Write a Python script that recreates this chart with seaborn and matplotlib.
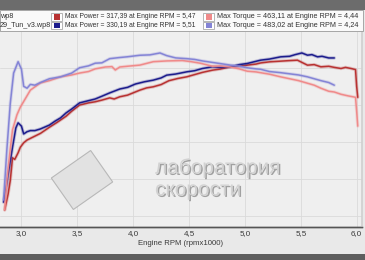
import numpy as np
import pandas as pd
import seaborn as sns
import matplotlib
matplotlib.use("Agg")
import matplotlib.pyplot as plt
from matplotlib.patches import Rectangle, Polygon
from matplotlib.ticker import MultipleLocator, FuncFormatter
import matplotlib.patheffects as pe

# ---------------- data ----------------
run_names = ["wp8", "29_Tun_v3.wp8"]

p1_rpm = [2.85, 2.88, 2.90, 2.92, 2.94, 2.97, 2.99, 3.02, 3.05, 3.10, 3.17, 3.25, 3.32, 3.40, 3.45,
          3.52, 3.60, 3.66, 3.72, 3.79, 3.83, 3.88, 3.95, 4.06, 4.12, 4.18, 4.25, 4.32, 4.40, 4.48,
          4.55, 4.62, 4.71, 4.78, 4.87, 4.95, 5.02, 5.10, 5.14, 5.22, 5.30, 5.38, 5.47, 5.52, 5.56,
          5.62, 5.68, 5.75, 5.80, 5.86, 5.90, 5.95, 5.99, 6.00, 6.01]
p1_kw = [47, 75, 100, 141, 138, 150, 160, 168, 173, 178, 185, 196, 205, 216, 225,
         236, 240, 242, 245, 249, 247, 251, 254, 263, 267, 269, 273, 280, 284, 287,
         291, 295, 299, 301, 305, 306, 308, 310, 312, 314, 315, 316, 317, 312, 308,
         309, 305, 306, 304, 302, 304, 302, 300, 270, 250]

p2_rpm = [2.84, 2.87, 2.88, 2.92, 2.95, 2.97, 3.00, 3.02, 3.05, 3.08, 3.12, 3.17, 3.25, 3.30, 3.35,
          3.40, 3.45, 3.52, 3.58, 3.66, 3.72, 3.79, 3.88, 3.95, 4.02, 4.10, 4.18, 4.25, 4.30, 4.38,
          4.48, 4.55, 4.62, 4.71, 4.78, 4.87, 4.95, 5.02, 5.10, 5.14, 5.22, 5.32, 5.40, 5.45, 5.51,
          5.56, 5.60, 5.65, 5.69, 5.75, 5.80]
p2_kw = [61, 95, 110, 160, 195, 204, 198, 184, 188, 190, 190, 193, 200, 207, 213,
         222, 229, 240, 243, 247, 252, 258, 265, 268, 274, 278, 281, 285, 290, 292,
         296, 298, 302, 305, 304, 305, 309, 311, 315, 317, 319, 323, 324, 327, 330,
         326, 327, 323, 324, 321, 321]

t1_rpm = [2.85, 2.87, 2.90, 2.92, 2.96, 2.99, 3.03, 3.08, 3.17, 3.25, 3.35, 3.45, 3.52, 3.60, 3.66,
          3.75, 3.81, 3.84, 3.88, 3.95, 4.06, 4.18, 4.30, 4.44, 4.52, 4.60, 4.71, 4.78, 4.87, 4.95,
          5.02, 5.10, 5.22, 5.32, 5.40, 5.48, 5.55, 5.62, 5.68, 5.75, 5.80, 5.86, 5.92, 5.99, 6.00,
          6.01]
t1_nm = [69, 150, 230, 280, 320, 340, 360, 385, 404, 410, 420, 425, 430, 434, 441,
         446, 447, 438, 446, 448, 451, 460, 462, 463, 460, 456, 448, 449, 446, 441,
         435, 433, 427, 420, 415, 410, 404, 398, 390, 382, 380, 374, 370, 366, 330,
         290]

t2_rpm = [2.84, 2.87, 2.90, 2.93, 2.97, 3.00, 3.02, 3.05, 3.08, 3.12, 3.17, 3.25, 3.35, 3.45, 3.52,
          3.60, 3.66, 3.72, 3.79, 3.88, 3.95, 4.06, 4.15, 4.24, 4.30, 4.38, 4.48, 4.55, 4.62, 4.71,
          4.78, 4.87, 4.95, 5.02, 5.10, 5.14, 5.22, 5.32, 5.40, 5.48, 5.56, 5.62, 5.68, 5.75, 5.80]
t2_nm = [95, 230, 350, 430, 460, 440, 395, 390, 400, 398, 405, 415, 420, 430, 444,
         449, 456, 457, 468, 471, 473, 477, 478, 483, 476, 470, 468, 466, 462, 458,
         455, 451, 448, 444, 441, 440, 434, 431, 428, 425, 420, 415, 410, 405, 398]

legend_rows = [
    ("wp8", "Max Power = 317,39 at Engine RPM = 5,47", "Max Torque = 463,11 at Engine RPM = 4,44"),
    ("29_Tun_v3.wp8", "Max Power = 330,19 at Engine RPM = 5,51", "Max Torque = 483,02 at Engine RPM = 4,24"),
]
x_label = "Engine RPM (rpmx1000)"
watermark = ["лаборатория", "скорости"]

power_colors = ["#b83232", "#1c1c8c"]
torque_colors = ["#f08a8a", "#8484d6"]

power_df = pd.concat([
    pd.DataFrame({"rpm": p1_rpm, "value": p1_kw, "run": run_names[0]}),
    pd.DataFrame({"rpm": p2_rpm, "value": p2_kw, "run": run_names[1]}),
])
torque_df = pd.concat([
    pd.DataFrame({"rpm": t1_rpm, "value": t1_nm, "run": run_names[0]}),
    pd.DataFrame({"rpm": t2_rpm, "value": t2_nm, "run": run_names[1]}),
])

# ---------------- figure ----------------
sns.set_theme(style="white")
plt.rcParams["font.family"] = ["Liberation Sans", "DejaVu Sans"]

W, H = 365, 260
fig = plt.figure(figsize=(W / 100, H / 100), dpi=100, facecolor="#e9e9e9")


def fx(px):
    return px / W


def fy(py):
    return 1 - py / H


ax = fig.add_axes([0, fy(227), fx(362), fy(31) - fy(227)])
ax.set_facecolor("#efefef")
ax2 = ax.twinx()

sns.lineplot(data=power_df, x="rpm", y="value", hue="run", palette=power_colors,
             hue_order=run_names, estimator=None, sort=False, legend=False, ax=ax, linewidth=1.1)
sns.lineplot(data=torque_df, x="rpm", y="value", hue="run", palette=torque_colors,
             hue_order=run_names, estimator=None, sort=False, legend=False, ax=ax2, linewidth=1.1)
for a in (ax, ax2):
    for ln in a.get_lines():
        ln.set_path_effects([pe.Stroke(linewidth=2.4, foreground=ln.get_color(), alpha=0.25), pe.Normal()])

ax.set_xlim(2.808, 6.048)
ax.set_ylim(16.2, 369.6)
ax2.set_ylim(23.7, 541.0)

ax.xaxis.set_major_locator(MultipleLocator(0.5))
ax.xaxis.set_minor_locator(MultipleLocator(0.1))
ax.xaxis.set_major_formatter(FuncFormatter(lambda v, p: f"{v:.1f}".replace(".", ",")))
ax.set_yticks(np.arange(36, 370, 66.7))
ax.yaxis.set_ticklabels([])
ax2.set_yticks([])
ax.tick_params(axis="y", length=0)
ax.tick_params(axis="x", which="major", direction="in", length=4, width=0.6, color="#555555",
               labelsize=5.8, labelcolor="#3a3a3a", pad=2.5)
ax.tick_params(axis="x", which="minor", direction="in", length=2.5, width=0.5, color="#666666")
ax.grid(True, which="major", color="#dadada", linewidth=0.6)
ax.set_xlabel(x_label, fontsize=5.6, color="#3a3a3a", labelpad=1.5)
ax.set_ylabel("")
ax2.set_ylabel("")
for a in (ax, ax2):
    for s in ("top", "left", "right"):
        a.spines[s].set_visible(False)
    a.spines["bottom"].set_color("#555555")
    a.spines["bottom"].set_linewidth(1.0)
ax2.spines["right"].set_visible(True)
ax2.spines["right"].set_color("#d0d0d0")

# top bar, legend band, bottom bar
fig.add_artist(Rectangle((0, fy(10)), 1, fy(0) - fy(10), transform=fig.transFigure,
                         facecolor="#6c6c6c", edgecolor="none"))
fig.add_artist(Rectangle((0, fy(31)), fx(363), fy(10) - fy(31), transform=fig.transFigure,
                         facecolor="#fafafa", edgecolor="#9a9a9a", linewidth=0.6))
fig.add_artist(Rectangle((0, 0), 1, fy(254), transform=fig.transFigure,
                         facecolor="#5e5e5e", edgecolor="none"))

row_y = [17, 25.5]
for i, (name, ptxt, ttxt) in enumerate(legend_rows):
    y = row_y[i]
    fig.text(fx(0), fy(y), name, fontsize=5.2, color="#333333", va="center", ha="left")
    for bx, col in ((51, power_colors[i]), (203, torque_colors[i])):
        fig.add_artist(Rectangle((fx(bx), fy(y + 3.8)), fx(11), fy(y - 3.8) - fy(y + 3.8),
                                 transform=fig.transFigure, facecolor="#ffffff",
                                 edgecolor="#9a9a9a", linewidth=0.5))
        fig.add_artist(Rectangle((fx(bx + 3), fy(y + 2.6)), fx(6), fy(y - 2.6) - fy(y + 2.6),
                                 transform=fig.transFigure, facecolor=col, edgecolor="none"))
    fig.text(fx(65), fy(y), ptxt, fontsize=4.9, color="#333333", va="center", ha="left")
    fig.text(fx(217), fy(y), ttxt, fontsize=5.2, color="#333333", va="center", ha="left")

# watermark logo + text
cx, cy, s = 82, 180, 24
ang = np.deg2rad(-35)
corners = [(-s, -s * 0.8), (s, -s * 0.8), (s, s * 0.8), (-s, s * 0.8)]
pts = []
for (u, v) in corners:
    px = cx + u * np.cos(ang) - v * np.sin(ang)
    py = cy + u * np.sin(ang) + v * np.cos(ang)
    pts.append((fx(px), fy(py)))
fig.add_artist(Polygon(pts, closed=True, transform=fig.transFigure, facecolor="#e2e2e2",
                       edgecolor="#b8b8b8", linewidth=0.8, zorder=0.5))
for k, yy in enumerate((168, 190)):
    fig.text(fx(155), fy(yy), watermark[k], fontsize=15, color="#d2d2d2", va="center", ha="left",
             path_effects=[pe.withSimplePatchShadow(offset=(1, -1), shadow_rgbFace="#8e8e8e", alpha=0.8)])

fig.savefig("out.png", dpi=100, facecolor=fig.get_facecolor())
